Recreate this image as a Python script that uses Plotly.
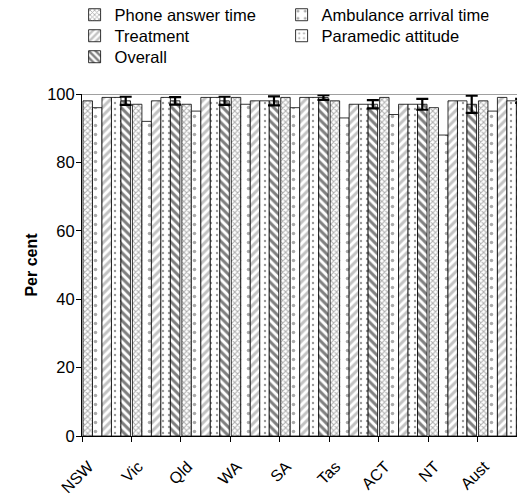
import plotly.graph_objects as go

categories = ["NSW", "Vic", "Qld", "WA", "SA", "Tas", "ACT", "NT", "Aust"]
phone_answer = [98, 97, 97, 99, 99, 98, 99, 96, 98]
ambulance_arrival = [96, 92, 95, 97, 96, 93, 94, 88, 95]
treatment = [99, 98, 99, 98, 99, 97, 97, 98, 99]
paramedic = [99, 99, 99, 98, 99, 97, 97, 98, 98]
overall = [98, 98, 98, 98, 99, 97, 97, 97, 98]
overall_err = [1.2, 1.1, 1.2, 1.3, 0.7, 1.2, 1.6, 2.5, 0.6]

FONT = "Liberation Sans, Arial, sans-serif"
line = dict(color="black", width=0.8)

fig = go.Figure()
fig.add_trace(go.Bar(
    name="Phone answer time", x=categories, y=phone_answer, legend="legend",
    marker=dict(color="white", line=line,
                pattern=dict(shape="x", fgcolor="#5a5a5a", bgcolor="white", size=4, solidity=0.45, fillmode="overlay"))))
fig.add_trace(go.Bar(
    name="Ambulance arrival time", x=categories, y=ambulance_arrival, legend="legend",
    marker=dict(color="white", line=line,
                pattern=dict(shape=".", fgcolor="#555555", bgcolor="white", size=9, solidity=0.12, fillmode="overlay"))))
fig.add_trace(go.Bar(
    name="Treatment", x=categories, y=treatment, legend="legend2",
    marker=dict(color="white", line=line,
                pattern=dict(shape="/", fgcolor="#858585", bgcolor="white", size=6, solidity=0.5, fillmode="overlay"))))
fig.add_trace(go.Bar(
    name="Paramedic attitude", x=categories, y=paramedic, legend="legend2",
    marker=dict(color="white", line=line,
                pattern=dict(shape=".", fgcolor="#333333", bgcolor="white", size=6, solidity=0.12, fillmode="overlay"))))
fig.add_trace(go.Bar(
    name="Overall", x=categories, y=overall, legend="legend3",
    error_y=dict(type="data", array=overall_err, color="black", thickness=2.2, width=6),
    marker=dict(color="white", line=line,
                pattern=dict(shape="\\", fgcolor="black", bgcolor="white", size=6, solidity=0.5, fillmode="overlay"))))

leg_common = dict(orientation="h", xanchor="left", yanchor="middle", font=dict(family=FONT, size=16.5, color="black"),
                  bgcolor="rgba(0,0,0,0)", borderwidth=0, entrywidth=162, itemwidth=30)
leg_x = -0.04 + 10 / 435

fig.update_layout(
    width=517, height=496,
    margin=dict(l=82, r=0, t=94, b=60, autoexpand=False),
    paper_bgcolor="white", plot_bgcolor="white",
    font=dict(family=FONT, size=16, color="black"),
    barmode="group", bargap=0.04, bargroupgap=0,
    legend=dict(x=leg_x, y=1.0 + (94 - 15) / 342, **leg_common),
    legend2=dict(x=leg_x, y=1.0 + (94 - 36) / 342, **leg_common),
    legend3=dict(x=leg_x, y=1.0 + (94 - 57) / 342, **leg_common),
    xaxis=dict(type="category", categoryorder="array", categoryarray=categories,
               range=[-0.5, 8.3], showline=True, linecolor="black", linewidth=1,
               ticks="outside", tickson="boundaries", ticklen=5, tickcolor="black",
               tickangle=-45, tickfont=dict(size=16), showgrid=False,
               ticklabelshift=-18, ticklabelstandoff=14),
    yaxis=dict(range=[0, 100], dtick=20, showline=True, linecolor="black", linewidth=1,
               ticks="outside", ticklen=5, tickcolor="black", showgrid=False, zeroline=False,
               tickfont=dict(size=16.5), ticklabelstandoff=-2,
               title=dict(text="<b>Per cent</b>", font=dict(size=16), standoff=5)),
    shapes=[dict(type="line", xref="paper", yref="y", x0=0, x1=1, y0=100, y1=100,
                 line=dict(color="#808080", width=1.5))],
)

fig.write_html("out.html", config={"displayModeBar": False},
               post_script="document.body.style.margin='0px';")
